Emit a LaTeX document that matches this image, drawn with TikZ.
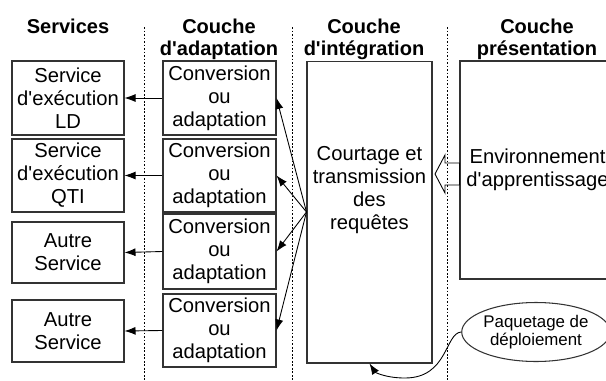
\documentclass[tikz,border=0pt]{standalone}
\usepackage{fontspec}
\setmainfont{Liberation Sans}[Ligatures=TeXOff]
\usetikzlibrary{positioning,shapes.geometric,arrows.meta}

\begin{document}
\begin{tikzpicture}[x=0.02cm, y=0.02cm,
        every node/.style={font=\fontsize{11.5}{13.1}\selectfont, align=center, inner sep=0pt},
        box/.style={draw=black!80, line width=0.6pt},
        svc/.style={box, minimum width=2.24cm},
        adapt/.style={box, minimum width=2.26cm},
        head/.style={font=\bfseries\fontsize{11.4}{12.5}\selectfont, anchor=base},
        sep/.style={dash pattern=on 1pt off 1pt, line width=0.4pt},
        arr/.style={-{Latex[length=2.2mm,width=1.6mm]}, line width=0.5pt}
    ]
        \useasboundingbox (0,0) rectangle (606,380);

        % Séparateurs des couches
        \draw[sep] (144,353) -- (144,0);
        \draw[sep] (292,353) -- (292,0);
        \draw[sep] (447,353) -- (447,0);

        % Titres
        \node[head] (hsvc) at (68,347) {Services};
        \node[head] (hadapt) at (219,325) {Couche\\d'adaptation};
        \node[head] (hint) at (364,325) {Couche\\d'intégration};
        \node[head] (hpres) at (537,325) {Couche\\présentation};

        % Services
        \node[svc, minimum height=1.48cm] (s1) at (68,282) {Service\\d'exécution\\LD};
        \node[svc, minimum height=1.46cm] (s2) at (68,204.5) {Service\\d'exécution\\QTI};
        \node[svc, minimum height=1.22cm] (s3) at (68,127.5) {Autre\\Service};
        \node[svc, minimum height=1.24cm] (s4) at (68,49) {Autre\\Service};

        % Couche d'adaptation
        \node[adapt, minimum height=1.48cm] (a1) at (219.5,282) {Conversion\\ou\\adaptation};
        \node[adapt, minimum height=1.46cm] (a2) at (219.5,204.5) {Conversion\\ou\\adaptation};
        \node[adapt, minimum height=1.50cm] (a3) at (219.5,128.5) {Conversion\\ou\\adaptation};
        \node[adapt, minimum height=1.46cm] (a4) at (219.5,49.5) {Conversion\\ou\\adaptation};

        % Intégration et présentation
        \node[box, minimum width=2.5cm, minimum height=6.04cm] (int) at (369.5,168) {};
        \node (inttxt) at (369.5,190) {Courtage et\\transmission\\des\\requêtes};
        \node[box, minimum width=3.1cm, minimum height=4.36cm] (pres) at (537.5,210) {Environnement\\d'apprentissage};
        \node[box, ellipse, minimum width=2.72cm, minimum height=1.18cm,
            font=\fontsize{9.6}{10.6}\selectfont] (pq) at (536,48) {Paquetage de\\déploiement};

        % Flèches
        \foreach \i in {1,...,4} {
            \draw[arr] (a\i.west) -- (s\i.east);
            \draw[arr] (int.west) -- (a\i.east);
        }
        \draw[line width=0.5pt] (435,206) -- (445,225) -- (445,217) -- (pres.west |- 0,217)
            -- (pres.west |- 0,195) -- (445,195) -- (445,187) -- cycle;
        \draw[arr] (pq.west) .. controls (445,47) and (448,2) .. (405,2)
            .. controls (385,2) and (375,8) .. (int.south);
    \end{tikzpicture}
\end{document}
